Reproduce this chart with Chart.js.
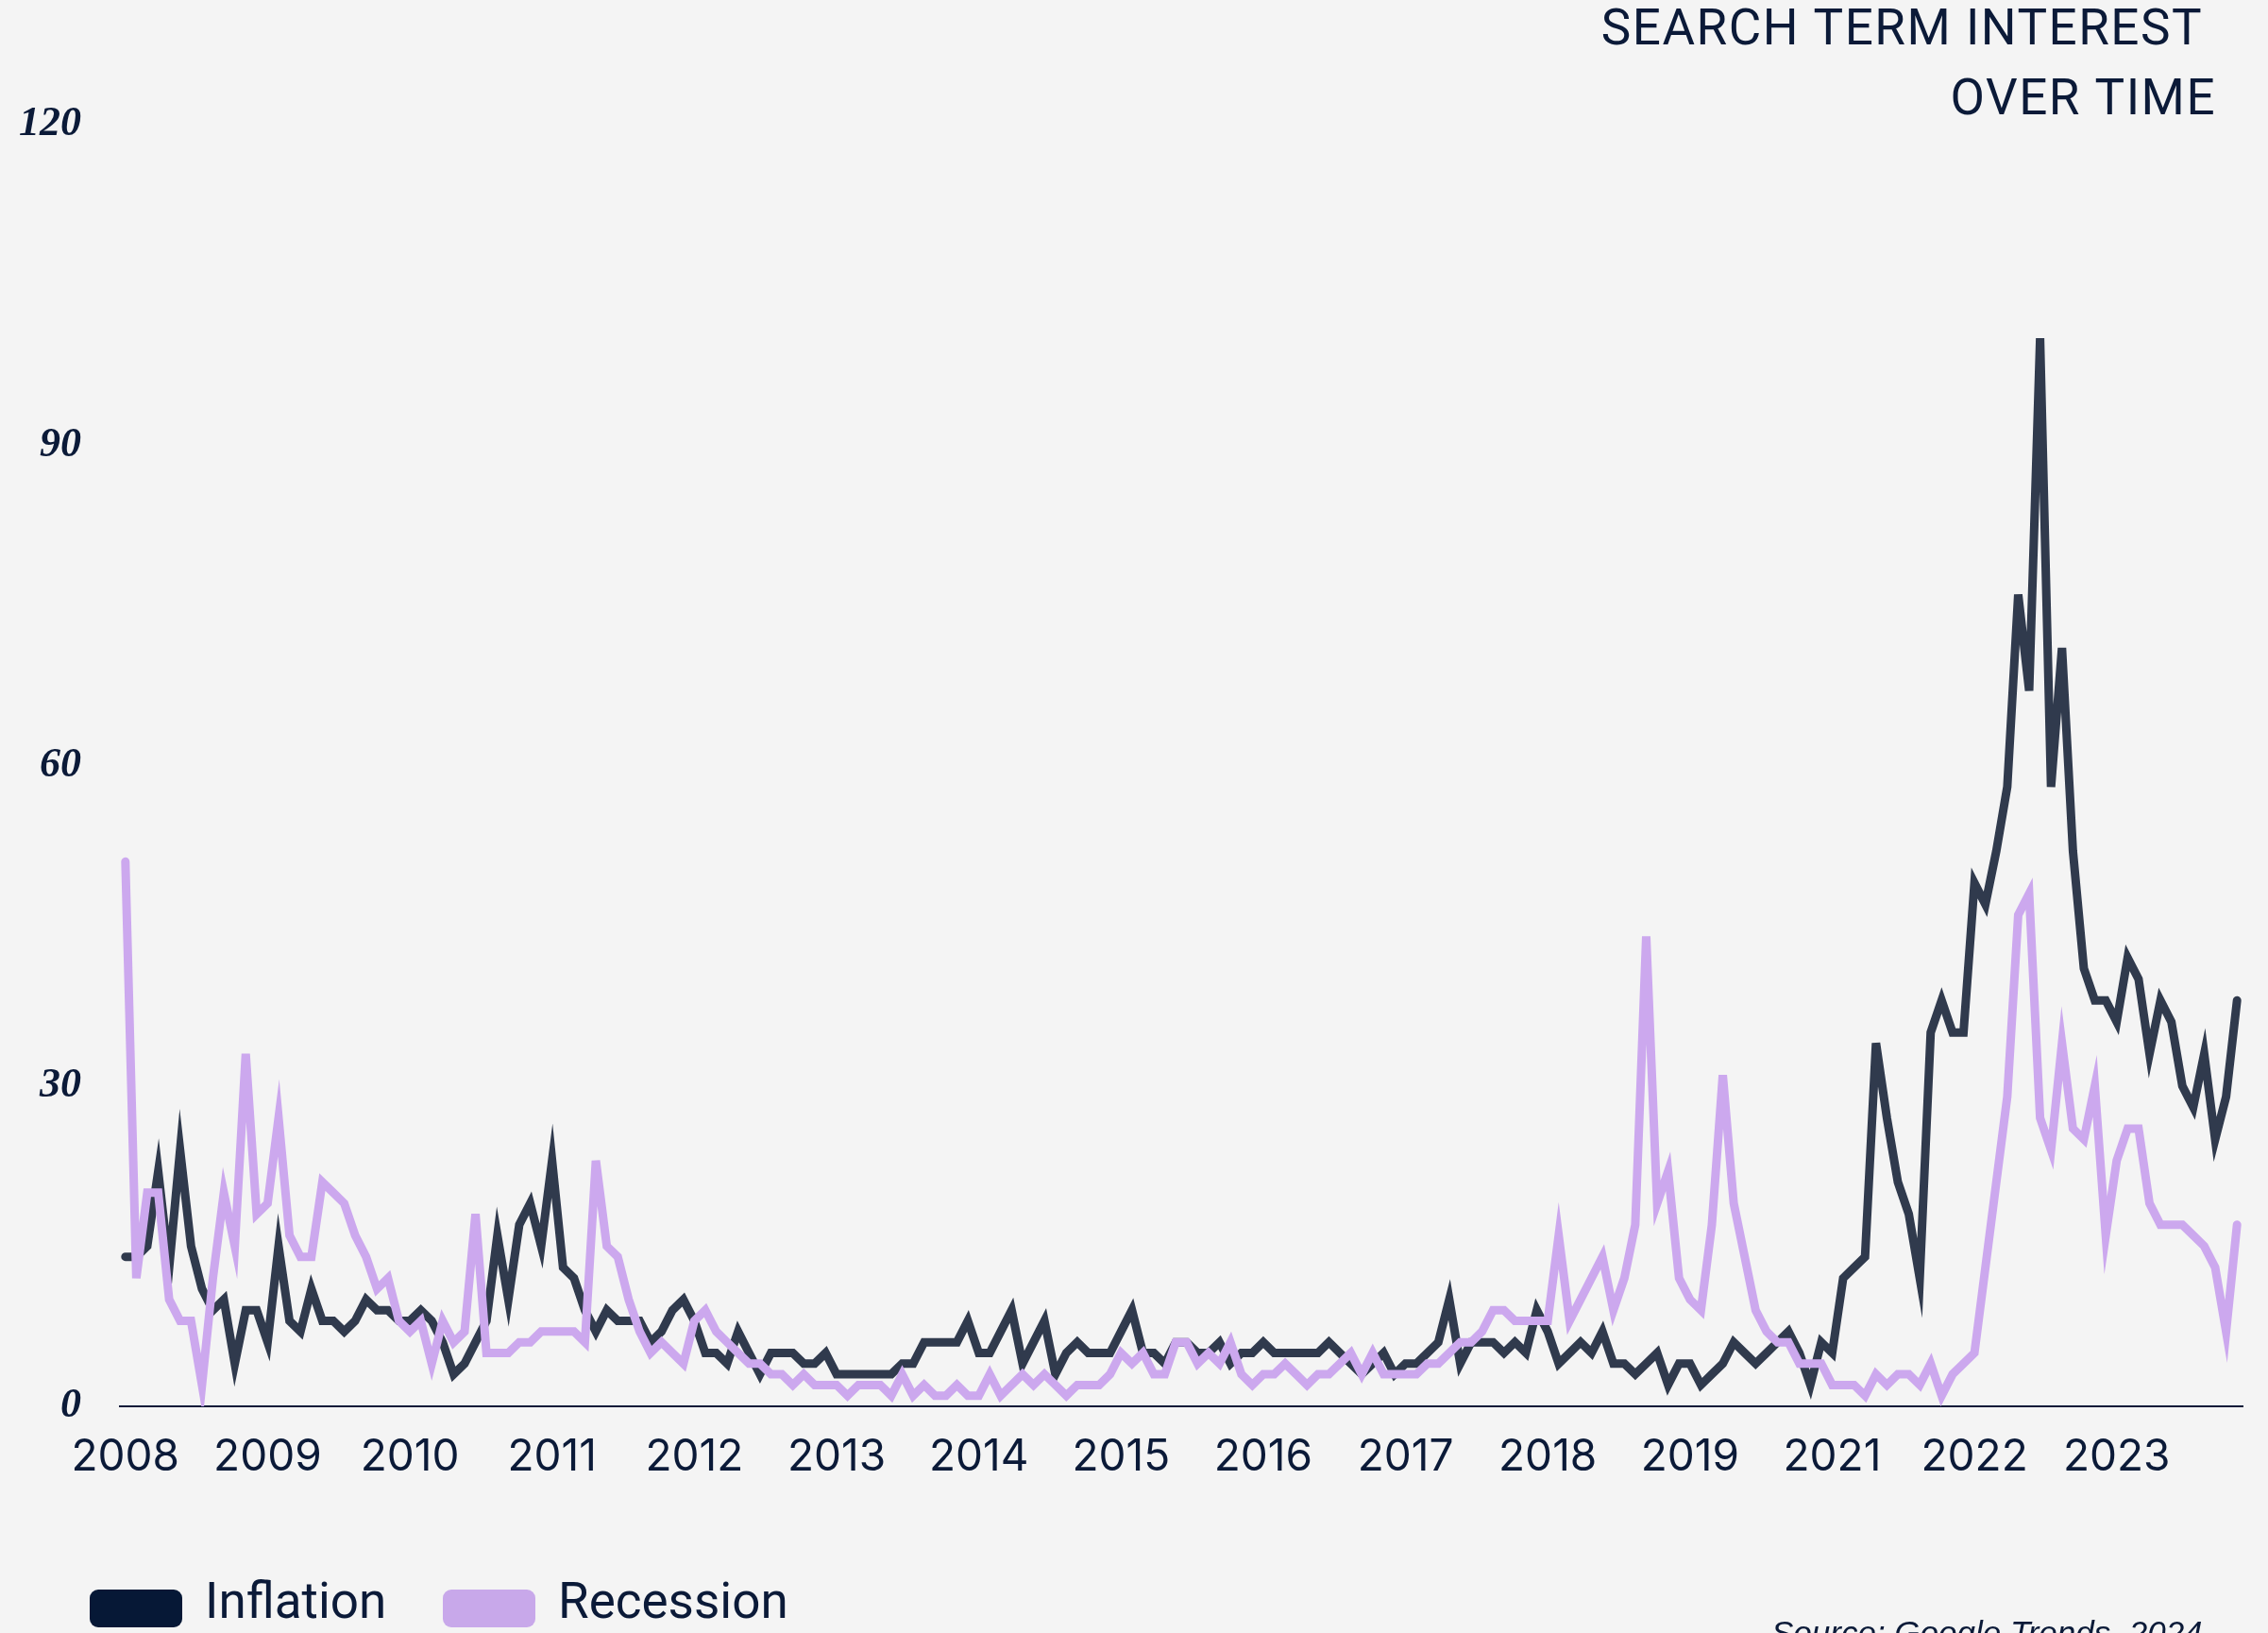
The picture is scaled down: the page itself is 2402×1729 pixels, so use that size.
<!DOCTYPE html>
<html>
<head>
<meta charset="utf-8">
<title>Search term interest over time</title>
<script src="https://cdn.jsdelivr.net/npm/chart.js@4.4.1/dist/chart.umd.min.js"></script>
<style>
    html, body { margin: 0; padding: 0; background: #f4f4f4; }
    #wrap { width: 2402px; height: 1729px; position: relative; }
</style>
</head>
<body>
<div id="wrap"><canvas id="trendChart"></canvas></div>
<script>
// ================= DATA =================

const startYear = 2008;
const tickEvery = 13; // one year label every 13 months (2020 falls between)

const titleLines = ["SEARCH TERM INTEREST", "OVER TIME"];
const sourceText = "Source: Google Trends, 2024";
const yTicks = [0, 30, 60, 90, 120];

// monthly values, Jan 2008 -> Feb 2024
const inflation = [
    14, 14, 15, 22, 13, 24, 15, 11, 9, 10, 4, 9,
    9, 6, 15, 8, 7, 11, 8, 8, 7, 8, 10, 9,
    9, 8, 8, 9, 8, 6, 3, 4, 6, 8, 16, 10,
    17, 19, 15, 23, 13, 12, 9, 7, 9, 8, 8, 8,
    6, 7, 9, 10, 8, 5, 5, 4, 7, 5, 3, 5,
    5, 5, 4, 4, 5, 3, 3, 3, 3, 3, 3, 4,
    4, 6, 6, 6, 6, 8, 5, 5, 7, 9, 4, 6,
    8, 3, 5, 6, 5, 5, 5, 7, 9, 5, 5, 4,
    6, 6, 5, 5, 6, 4, 5, 5, 6, 5, 5, 5,
    5, 5, 6, 5, 4, 3, 4, 5, 3, 4, 4, 5,
    6, 10, 4, 6, 6, 6, 5, 6, 5, 9, 7, 4,
    5, 6, 5, 7, 4, 4, 3, 4, 5, 2, 4, 4,
    2, 3, 4, 6, 5, 4, 5, 6, 7, 5, 2, 6,
    5, 12, 13, 14, 34, 27, 21, 18, 12, 35, 38, 35,
    35, 49, 47, 52, 58, 76, 67, 100, 58, 71, 52, 41,
    38, 38, 36, 42, 40, 33, 38, 36, 30, 28, 33, 25,
    29, 38
];

const recession = [
    51, 12, 20, 20, 10, 8, 8, 2, 12, 20, 15, 33,
    18, 19, 27, 16, 14, 14, 21, 20, 19, 16, 14, 11,
    12, 8, 7, 8, 4, 8, 6, 7, 18, 5, 5, 5,
    6, 6, 7, 7, 7, 7, 6, 23, 15, 14, 10, 7,
    5, 6, 5, 4, 8, 9, 7, 6, 5, 4, 4, 3,
    3, 2, 3, 2, 2, 2, 1, 2, 2, 2, 1, 3,
    1, 2, 1, 1, 2, 1, 1, 3, 1, 2, 3, 2,
    3, 2, 1, 2, 2, 2, 3, 5, 4, 5, 3, 3,
    6, 6, 4, 5, 4, 6, 3, 2, 3, 3, 4, 3,
    2, 3, 3, 4, 5, 3, 5, 3, 3, 3, 3, 4,
    4, 5, 6, 6, 7, 9, 9, 8, 8, 8, 8, 16,
    8, 10, 12, 14, 9, 12, 17, 44, 19, 22, 12, 10,
    9, 17, 31, 19, 14, 9, 7, 6, 6, 4, 4, 4,
    2, 2, 2, 1, 3, 2, 3, 3, 2, 4, 1, 3,
    4, 5, 13, 21, 29, 46, 48, 27, 24, 34, 26, 25,
    30, 16, 23, 26, 26, 19, 17, 17, 17, 16, 15, 13,
    7, 17
];

const months = inflation.map((_, i) => String(startYear + Math.floor(i / 12)));

// ================= STYLE =================

const NAVY = "#0b1a38";
const BG = "#f4f4f4";
const INFLATION_LINE = "#303a4d";
const INFLATION_KEY = "#061836";
const RECESSION_LINE = "#cca8ee";
const RECESSION_KEY = "#c8a8ea";

// ================= PLUGINS =================

const background = {
    id: "background",
    beforeDraw(chart) {
        const ctx = chart.ctx;
        ctx.save();
        ctx.fillStyle = BG;
        ctx.fillRect(0, 0, chart.width, chart.height);
        ctx.restore();
    },
};

const decor = {
    id: "decor",
    afterDraw(chart) {
        const ctx = chart.ctx;
        ctx.save();

        // title, top right
        ctx.fillStyle = NAVY;
        ctx.textAlign = "right";
        ctx.textBaseline = "alphabetic";
        ctx.font = '400 53px Roboto';
        ctx.letterSpacing = "1.5px";
        ctx.fillText(titleLines[0], 2333, 47);
        ctx.fillText(titleLines[1], 2347, 121);
        ctx.letterSpacing = "0px";

        // legend, bottom left
        ctx.textAlign = "left";
        ctx.font = '53px Roboto';
        const keyX = [95, 469];
        chart.data.datasets.forEach((ds, i) => {
            const x = keyX[i];
            ctx.fillStyle = ds.keyColor;
            ctx.beginPath();
            ctx.roundRect(x, 1683, 98, 40, 9);
            ctx.fill();
            ctx.fillStyle = NAVY;
            ctx.fillText(ds.label, x + 122, 1713);
        });

        // source, mostly below the bottom edge
        ctx.font = 'italic 35px "Liberation Sans"';
        ctx.fillText(sourceText, 1876, 1741);

        ctx.restore();
    },
};

// ================= CHART =================

const ctx = document.getElementById("trendChart");

new Chart(ctx, {
    type: "line",
    data: {
        labels: months,
        datasets: [
            {
                label: "Inflation",
                data: inflation,
                borderColor: INFLATION_LINE,
                keyColor: INFLATION_KEY,
                borderWidth: 9,
                borderCapStyle: "round",
                pointRadius: 0,
                tension: 0,
                order: 1,
            },
            {
                label: "Recession",
                data: recession,
                borderColor: RECESSION_LINE,
                keyColor: RECESSION_KEY,
                borderWidth: 9,
                borderCapStyle: "round",
                pointRadius: 0,
                tension: 0,
                order: 0,
            },
        ],
    },
    options: {
        responsive: true,
        maintainAspectRatio: false,
        animation: false,
        layout: { padding: { left: 0, right: 27, top: 132, bottom: 0 } },
        plugins: {
            legend: { display: false },
            tooltip: { enabled: false },
        },
        scales: {
            x: {
                offset: true,
                grid: { display: false, drawTicks: false },
                border: { display: true, color: NAVY, width: 2 },
                afterFit: (scale) => { scale.height = 240; },
                ticks: {
                    autoSkip: false,
                    maxRotation: 0,
                    minRotation: 0,
                    padding: 27,
                    color: NAVY,
                    font: { family: "Inter", size: 46 },
                    callback: (val, i) => (i % tickEvery === 0 ? months[i] : ""),
                },
            },
            y: {
                min: yTicks[0],
                max: yTicks[yTicks.length - 1],
                grid: { display: false, drawTicks: false },
                border: { display: false },
                afterFit: (scale) => { scale.width = 127; },
                afterBuildTicks: (scale) => {
                    scale.ticks = yTicks.map((v) => ({ value: v }));
                },
                ticks: {
                    padding: 41,
                    color: NAVY,
                    font: { family: "Liberation Serif", size: 44, style: "italic", weight: "bold" },
                },
            },
        },
    },
    plugins: [background, decor],
});
</script>
</body>
</html>
